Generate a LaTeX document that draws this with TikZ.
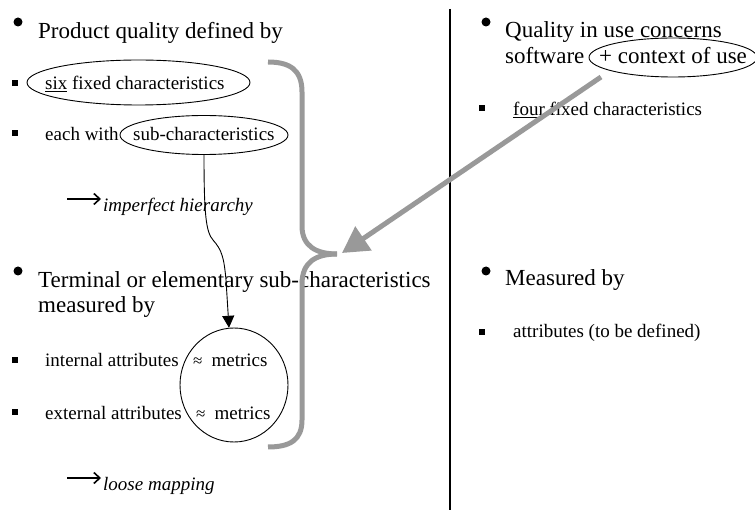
\documentclass[tikz,border=0pt]{standalone}
\usepackage{fontspec}
\setmainfont{Liberation Serif}
\usetikzlibrary{arrows.meta,shapes.geometric}
\definecolor{brgray}{RGB}{153,153,153}
\begin{document}
\begin{tikzpicture}[x=1pt,y=-1pt,
  big/.style={font=\fontsize{23}{27}\selectfont, anchor=base west, inner sep=0},
  small/.style={font=\fontsize{19}{22}\selectfont, anchor=base west, inner sep=0},
  ital/.style={font=\fontsize{19}{22}\selectfont\itshape, anchor=base west, inner sep=0},
  bdot/.style={circle, fill=black, minimum size=9pt, inner sep=0},
  sq/.style={rectangle, fill=black, minimum size=6pt, inner sep=0},
  ell/.style={draw, ellipse, line width=0.9pt, inner sep=0},
  brace/.style={draw=brgray, line width=5pt},
  garrow/.style={draw=brgray, line width=5pt, -{Triangle[length=26pt,width=28pt]}},
  smallarrow/.style={line width=1.6pt, -{Straight Barb[length=6pt,width=11pt,line width=1.6pt]}}
]
\useasboundingbox (0,0) rectangle (755,510);

% divider
\draw[line width=1.3pt] (450,9) -- (450,510);

% ---------- left column ----------
\node[bdot] (d1) at (18,22) {};
\node[big] (t1) at (38,39) {Product quality defined by};

\node[sq] (s1) at (15,83) {};
\node[ell, minimum width=223pt, minimum height=45pt] (e1) at (138.5,82.5) {};
\node[small] (t2) at (45,90) {\underline{six} fixed characteristics};

\node[sq] (s2) at (15,133) {};
\node[small] (t3) at (45,141) {each with};
\node[ell, minimum width=168pt, minimum height=39pt] (e2) at (204,135) {};
\node[small] (t4) at (133,141) {sub-characteristics};

\coordinate (a1s) at (67,199);
\coordinate (a1e) at (101,199);
\draw[smallarrow] (a1s) -- (a1e);
\node[ital] (t5) at (103,212) {imperfect hierarchy};

\node[bdot] (d2) at (18,271) {};
\node[big] (t6) at (38,288) {Terminal or elementary sub-characteristics};
\node[big] (t7) at (38,313) {measured by};

\node[ellipse, draw, line width=0.9pt, minimum width=108pt, minimum height=114pt, inner sep=0] (circ) at (234,385) {};

\node[sq] (s3) at (15,360) {};
\node[small] (t8) at (45,367) {internal attributes};
\node[small] (m1) at (193,367) {{\fontsize{17}{17}\selectfont ≈}\hspace{9pt}metrics};

\node[sq] (s4) at (15,412) {};
\node[small] (t9) at (45,419) {external attributes};
\node[small] (m2) at (196,419) {{\fontsize{17}{17}\selectfont ≈}\hspace{9pt}metrics};

\coordinate (a2s) at (67,478);
\coordinate (a2e) at (101,478);
\draw[smallarrow] (a2s) -- (a2e);
\node[ital] (t10) at (103,490) {loose mapping};

% curved black arrow
\draw[line width=0.9pt, -{Triangle[length=12pt,width=12pt]}]
  (e2.south) .. controls (204,215) and (206,232) .. (213,240)
  .. controls (222,250) and (224,258) .. (226,280) -- (circ.95);

% gray brace
\coordinate (bt) at (268,62);
\coordinate (bm) at (337,254);
\coordinate (bb) at (268,447);
\draw[brace] (bt) .. controls (290,62) and (302,70) .. (302,92) -- (302,226)
  .. controls (302,246) and (316,254) .. (bm);
\draw[brace] (bm) .. controls (316,254) and (302,262) .. (302,284) -- (302,420)
  .. controls (302,440) and (290,447) .. (bb);

% ---------- right column ----------
\node[bdot] (d3) at (486,22) {};
\node[big] (t11) at (505,38) {Quality in use concerns};
\node[big] (t12) at (505,64) {software};
\node[ell, minimum width=168pt, minimum height=39pt] (e3) at (673,57.5) {};
\node[big] (t13) at (599,64) {+ context of use};

\node[sq] (s5) at (482,108) {};
\node[small] (t14) at (513,116) {\underline{four} fixed characteristics};

\node[bdot] (d4) at (486,271) {};
\node[big] (t15) at (505,286) {Measured by};

\node[sq] (s6) at (482,332) {};
\node[small] (t16) at (513,338) {attributes (to be defined)};

% gray arrow
\coordinate (gs) at (601,77);
\coordinate (gt) at (342,253);
\draw[garrow] (gs) -- (gt);
\end{tikzpicture}
\end{document}
